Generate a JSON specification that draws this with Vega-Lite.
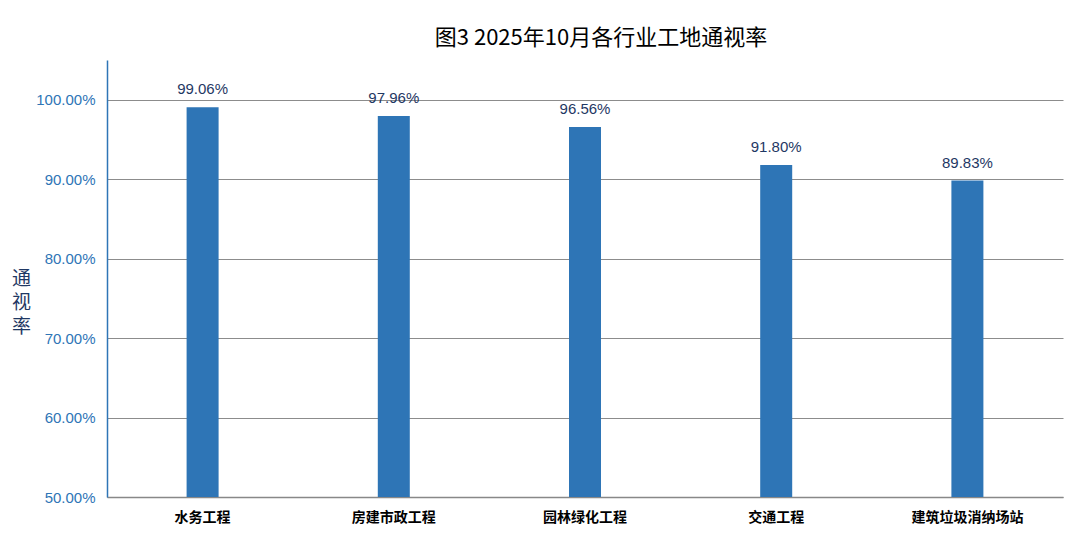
{
  "$schema": "https://vega.github.io/schema/vega-lite/v6.json",
  "autosize": "none",
  "width": 956,
  "height": 437,
  "padding": {"left": 107, "top": 60, "right": 24, "bottom": 42},
  "background": "white",
  "title": {
    "text": "图3 2025年10月各行业工地通视率",
    "font": "Noto Sans CJK SC",
    "fontSize": 22,
    "fontWeight": "normal",
    "color": "#000000",
    "anchor": "middle",
    "frame": "group",
    "dx": 16,
    "offset": 10
  },
  "data": {
    "values": [
      {"category": "水务工程", "rate": 0.9906},
      {"category": "房建市政工程", "rate": 0.9796},
      {"category": "园林绿化工程", "rate": 0.9656},
      {"category": "交通工程", "rate": 0.9180},
      {"category": "建筑垃圾消纳场站", "rate": 0.8983}
    ]
  },
  "config": {"view": {"stroke": null}},
  "encoding": {
    "x": {
      "field": "category",
      "type": "nominal",
      "sort": null,
      "scale": {"paddingInner": 0, "paddingOuter": 0},
      "axis": {
        "title": null,
        "labelAngle": 0,
        "labelFont": "Noto Sans CJK SC",
        "labelFontWeight": "bold",
        "labelFontSize": 14,
        "labelColor": "#000000",
        "labelPadding": 13,
        "ticks": false,
        "domainColor": "#888888",
        "domainWidth": 1.5,
        "grid": false
      }
    },
    "y": {
      "field": "rate",
      "type": "quantitative",
      "scale": {"domain": [0.5, 1.05], "nice": false, "zero": false},
      "axis": {
        "title": ["通", "视", "率"],
        "titleAngle": 0,
        "titleFont": "Noto Sans CJK SC",
        "titleFontSize": 19,
        "titleFontWeight": "normal",
        "titleColor": "#1f3864",
        "titleLineHeight": 24,
        "titleAlign": "center",
        "titleBaseline": "middle",
        "titleX": -86,
        "titleY": 218,
        "values": [0.5, 0.6, 0.7, 0.8, 0.9, 1.0],
        "format": ".2%",
        "labelFont": "Liberation Sans",
        "labelFontSize": 15,
        "labelColor": "#2e75b6",
        "labelPadding": 12,
        "ticks": false,
        "domainColor": "#2e75b6",
        "domainWidth": 1.5,
        "grid": true,
        "gridColor": "#8c8c8c",
        "gridWidth": 1
      }
    }
  },
  "layer": [
    {
      "mark": {"type": "bar", "color": "#2e75b6", "size": 32, "clip": true},
      "encoding": {"y2": {"datum": 0.5}}
    },
    {
      "mark": {
        "type": "text",
        "dy": -18,
        "font": "Liberation Sans",
        "fontSize": 15,
        "color": "#1f3864"
      },
      "encoding": {
        "text": {"field": "rate", "type": "quantitative", "format": ".2%"}
      }
    }
  ]
}
